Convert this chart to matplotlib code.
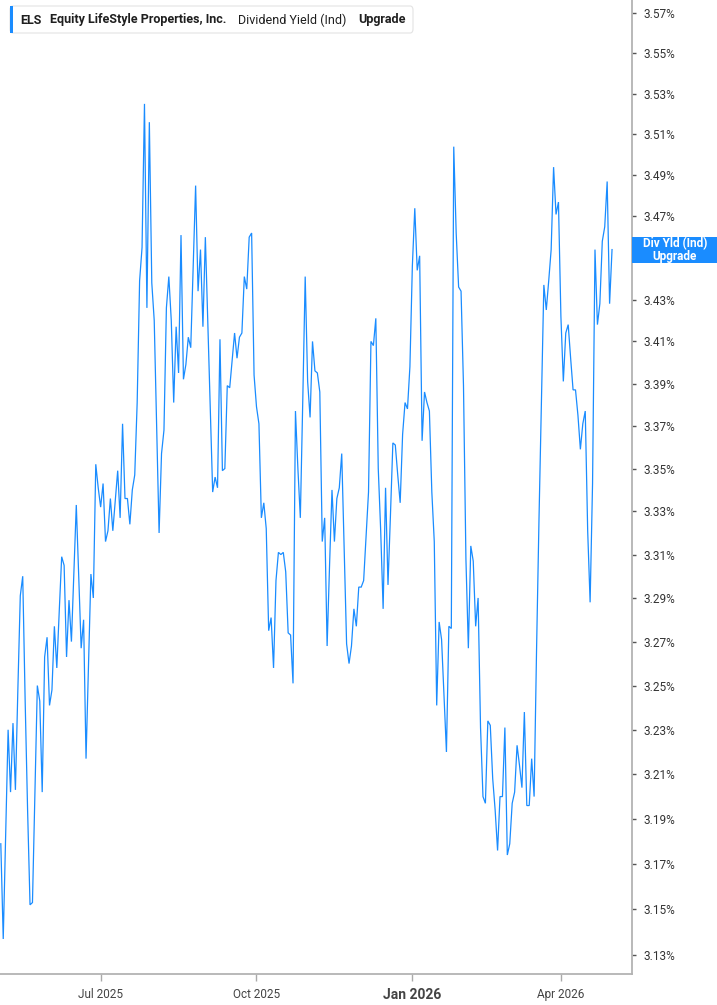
import matplotlib
matplotlib.use("Agg")
import matplotlib.pyplot as plt
import numpy as np
import pandas as pd
from matplotlib.patches import FancyBboxPatch, Rectangle
from matplotlib.ticker import FixedLocator, FuncFormatter, NullLocator

plt.rcParams["font.family"] = ["Roboto", "DejaVu Sans"]

# Trading calendar (NYSE holidays inside the window)
start_date = "2025-05-01"
end_date = "2026-05-01"
holidays = ["2025-05-26", "2025-06-19", "2025-07-04", "2025-09-01", "2025-11-27",
            "2025-12-25", "2026-01-01", "2026-01-19", "2026-02-16", "2026-04-03"]

# Dividend yield (%), one value per trading day
yield_may_jun = [3.179, 3.137, 3.183, 3.230, 3.202, 3.233, 3.203, 3.248, 3.291, 3.300,
                 3.243, 3.194, 3.152, 3.153, 3.201, 3.250, 3.243, 3.202, 3.263, 3.272,
                 3.241, 3.248, 3.277, 3.258, 3.284, 3.309, 3.305, 3.263, 3.289, 3.270,
                 3.302, 3.333, 3.300, 3.267, 3.280, 3.217, 3.259, 3.301, 3.290, 3.352,
                 3.341]
yield_q3 = [3.332, 3.343, 3.316, 3.321, 3.336, 3.321, 3.335, 3.349, 3.327, 3.371,
            3.336, 3.336, 3.324, 3.340, 3.347, 3.381, 3.439, 3.455, 3.525, 3.426,
            3.516, 3.438, 3.420, 3.370, 3.320, 3.357, 3.368, 3.426, 3.441, 3.420,
            3.381, 3.417, 3.395, 3.461, 3.392, 3.399, 3.412, 3.407, 3.446, 3.485,
            3.434, 3.454, 3.417, 3.460, 3.419, 3.379, 3.339, 3.346, 3.341, 3.411,
            3.349, 3.350, 3.389, 3.388, 3.401, 3.414, 3.402, 3.412, 3.414, 3.441,
            3.435, 3.460, 3.462, 3.394]
yield_q4 = [3.379, 3.371, 3.327, 3.334, 3.322, 3.275, 3.281, 3.258, 3.298, 3.311,
            3.310, 3.311, 3.302, 3.274, 3.273, 3.251, 3.377, 3.350, 3.327, 3.382,
            3.441, 3.391, 3.374, 3.410, 3.396, 3.395, 3.386, 3.316, 3.327, 3.268,
            3.305, 3.340, 3.316, 3.336, 3.341, 3.357, 3.313, 3.269, 3.260, 3.268,
            3.285, 3.277, 3.295, 3.295, 3.298, 3.318, 3.339, 3.410, 3.408, 3.421,
            3.350, 3.321, 3.285, 3.341, 3.296, 3.328, 3.362, 3.361, 3.347, 3.334,
            3.366, 3.381, 3.378, 3.398]
yield_q1 = [3.446, 3.474, 3.444, 3.451, 3.363, 3.386, 3.381, 3.377, 3.339, 3.316,
            3.241, 3.279, 3.271, 3.245, 3.220, 3.277, 3.276, 3.504, 3.462, 3.436,
            3.434, 3.389, 3.308, 3.267, 3.314, 3.307, 3.277, 3.290, 3.231, 3.200,
            3.197, 3.234, 3.232, 3.208, 3.194, 3.176, 3.200, 3.200, 3.231, 3.174,
            3.179, 3.197, 3.202, 3.223, 3.214, 3.204, 3.238, 3.196, 3.196, 3.217,
            3.200, 3.266, 3.326, 3.382, 3.437, 3.425, 3.439, 3.454, 3.494, 3.471,
            3.477]
yield_apr = [3.422, 3.391, 3.414, 3.418, 3.402, 3.387, 3.387, 3.375, 3.359, 3.371,
             3.377, 3.321, 3.288, 3.343, 3.454, 3.418, 3.428, 3.458, 3.465, 3.487,
             3.428, 3.454]

y_ticks = [3.13, 3.15, 3.17, 3.19, 3.21, 3.23, 3.25, 3.27, 3.29, 3.31, 3.33, 3.35,
           3.37, 3.39, 3.41, 3.43, 3.45, 3.47, 3.49, 3.51, 3.53, 3.55, 3.57]

values = np.array(yield_may_jun + yield_q3 + yield_q4 + yield_q1 + yield_apr)
dates = pd.bdate_range(start_date, end_date, freq="C", holidays=holidays)
n = min(len(dates), len(values))
dates = dates[:n]
values = values[:n]
pos = np.arange(n)

BLUE = "#1a8cff"
W, H = 717, 1005

fig = plt.figure(figsize=(W / 100, H / 100), dpi=100)
ax = fig.add_axes([0, 1 - 974 / H, 632 / W, 974 / H])

ax.plot(pos, values, color=BLUE, lw=0.9, solid_joinstyle="miter")

ax.set_yscale("log")
ax.set_ylim(3.1217, 3.5765)
ax.set_xlim(-0.33, 259.2)

ax.yaxis.tick_right()
ax.yaxis.set_major_locator(FixedLocator(y_ticks))
ax.yaxis.set_minor_locator(NullLocator())
ax.yaxis.set_major_formatter(FuncFormatter(lambda v, p: f"{v:.2f}%"))
ax.tick_params(axis="y", which="major", length=3, width=1, color="#555555",
               labelsize=8.5, labelcolor="#333333", pad=5)

# quarter ticks at first trading day of Jan/Apr/Jul/Oct
tick_pos, tick_lab = [], []
for i in range(1, n):
    if dates[i].month != dates[i - 1].month and dates[i].month in (1, 4, 7, 10):
        tick_pos.append(i)
        tick_lab.append(dates[i].strftime("%b %Y"))
ax.set_xticks(tick_pos)
ax.set_xticklabels(tick_lab)
ax.tick_params(axis="x", length=5, width=1, color="#aaaaaa",
               labelsize=8.5, labelcolor="#444444", pad=5)
for lab in ax.get_xticklabels():
    if lab.get_text().startswith("Jan"):
        lab.set_fontweight("bold")
        lab.set_fontsize(10)

for side in ("top", "left"):
    ax.spines[side].set_visible(False)
for side in ("right", "bottom"):
    ax.spines[side].set_color("#b3b3b3")
    ax.spines[side].set_linewidth(1.3)

# legend header box
def fx(px):
    return px / W


def fy(py):
    return 1 - py / H


box = FancyBboxPatch((fx(10), fy(33)), fx(413) - fx(10), fy(6) - fy(33),
                     boxstyle="round,pad=0,rounding_size=0.004",
                     transform=fig.transFigure, fc="white", ec="#e3e3e3", lw=0.8)
fig.patches.append(box)
fig.patches.append(Rectangle((fx(10), fy(33)), fx(13) - fx(10), fy(6) - fy(33),
                             transform=fig.transFigure, fc=BLUE, ec="none"))
ty = fy(20)
fig.text(fx(20), ty, "ELS", fontsize=9, fontweight="bold", color="#1f1f1f", va="center")
fig.text(fx(50), ty, "Equity LifeStyle Properties, Inc.", fontsize=9,
         fontweight="bold", color="#1f1f1f", va="center")
fig.text(fx(238), ty, "Dividend Yield (Ind)", fontsize=9, color="#1f1f1f", va="center")
fig.text(fx(358), ty, "Upgrade", fontsize=9, fontweight="bold", color="#1f1f1f",
         va="center")

# last-value label on the right axis
last_y = ax.transData.transform((pos[-1], values[-1]))[1] / H
bh = 26 / H
fig.patches.append(Rectangle((fx(632), last_y - bh / 2), fx(717) - fx(632), bh,
                             transform=fig.transFigure, fc=BLUE, ec="none", zorder=5))
fig.text(fx(675), last_y, "Div Yld (Ind)\nUpgrade", fontsize=8.5, fontweight="bold",
         color="white", ha="center", va="center", linespacing=1.0, zorder=6)

fig.savefig("out.png", dpi=100)
